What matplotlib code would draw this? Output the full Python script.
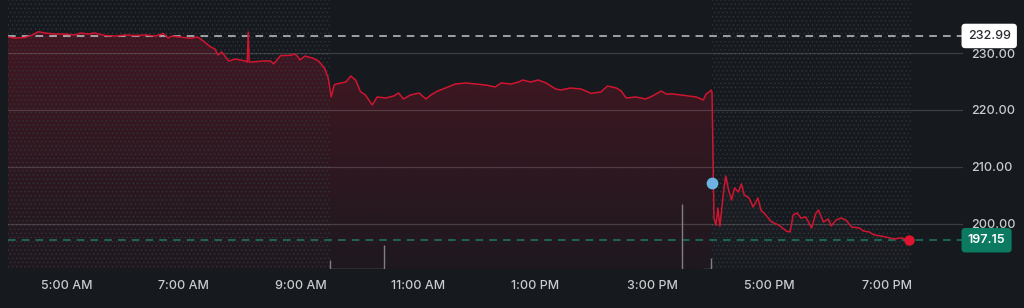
import matplotlib
matplotlib.use('Agg')
import matplotlib.pyplot as plt
import matplotlib.dates as mdates
import numpy as np
import pandas as pd

plt.rcParams['font.family'] = ['Inter', 'DejaVu Sans']
plt.rcParams['hatch.linewidth'] = 0.5

DAY = '2024-07-31'

times = ['04:00', '04:07', '04:17', '04:25', '04:31', '04:38', '04:48', '04:58', '05:09', '05:14',
         '05:22', '05:29', '05:39', '05:50', '06:00', '06:10', '06:21', '06:31', '06:39', '06:44',
         '06:48', '06:56', '07:07', '07:14', '07:20', '07:27', '07:32', '07:35', '07:39', '07:46',
         '07:53', '07:58', '08:03', '08:05', '08:06', '08:07', '08:13', '08:21', '08:29', '08:32',
         '08:39', '08:49', '08:54', '08:57', '08:59', '09:04', '09:12', '09:18', '09:24', '09:28',
         '09:31', '09:34', '09:36', '09:41', '09:46', '09:51', '09:56', '10:01', '10:06', '10:13',
         '10:18', '10:27', '10:35', '10:40', '10:45', '10:52', '11:01', '11:08', '11:13', '11:20',
         '11:28', '11:38', '11:49', '11:59', '12:09', '12:19', '12:25', '12:35', '12:43', '12:47',
         '12:55', '13:03', '13:11', '13:21', '13:26', '13:36', '13:47', '13:57', '14:07', '14:14',
         '14:23', '14:28', '14:33', '14:43', '14:53', '15:00', '15:09', '15:14', '15:21', '15:29',
         '15:37', '15:45', '15:52', '15:55', '15:58', '16:00',
         '16:01', '16:03', '16:05', '16:07', '16:09', '16:13', '16:15', '16:18', '16:21', '16:24',
         '16:28', '16:31', '16:34', '16:39', '16:43', '16:48', '16:51', '16:56', '17:02', '17:07',
         '17:12', '17:17', '17:21', '17:24', '17:28', '17:32', '17:37', '17:43', '17:47', '17:50',
         '17:55', '18:00', '18:03', '18:08', '18:13', '18:18', '18:24', '18:32', '18:36', '18:42',
         '18:47', '18:54', '18:59', '19:07', '19:15', '19:23']

prices = [232.81, 232.63, 232.72, 233.16, 233.74, 233.51, 233.33, 233.33, 233.16, 233.51,
          233.33, 233.51, 233.07, 232.98, 233.16, 233.07, 233.16, 232.98, 233.42, 232.63,
          232.98, 232.81, 232.58, 232.81, 232.11, 231.11, 230.70, 229.65, 230.18, 228.60,
          228.95, 228.77, 228.60, 228.42, 233.68, 228.42, 228.47, 228.60, 228.60, 228.07,
          229.53, 229.60, 229.82, 229.30, 228.77, 229.47, 229.12, 228.60, 227.37, 225.61,
          222.28, 224.39, 224.56, 224.74, 224.91, 225.96, 225.26, 223.21, 222.63, 220.88,
          222.28, 222.11, 222.46, 222.98, 221.93, 222.63, 222.98, 221.93, 222.63, 223.33,
          223.86, 224.56, 224.74, 224.56, 224.39, 224.04, 224.74, 224.56, 224.91, 225.26,
          224.91, 225.26, 224.74, 223.68, 223.51, 223.86, 223.68, 222.93, 223.16, 224.21,
          223.86, 223.33, 222.11, 222.28, 221.93, 222.46, 223.33, 222.81, 222.81, 222.63,
          222.46, 222.28, 221.75, 222.81, 223.16, 223.50,
          223.00, 201.00, 199.80, 202.80, 199.60, 205.96, 208.42, 205.96, 204.21, 206.32,
          205.61, 207.02, 205.09, 204.56, 202.98, 204.56, 202.46, 201.58, 200.35, 200.00,
          199.47, 198.77, 198.60, 201.58, 201.93, 201.05, 201.23, 199.30, 201.75, 202.46,
          200.35, 200.88, 199.65, 200.70, 201.05, 200.70, 199.47, 199.30, 198.77, 198.60,
          198.07, 197.89, 197.72, 197.37, 197.54, 197.15]

tick_times = ['05:00', '07:00', '09:00', '11:00', '13:00', '15:00', '17:00', '19:00']
tick_labels = ['5:00 AM', '7:00 AM', '9:00 AM', '11:00 AM', '1:00 PM', '3:00 PM', '5:00 PM', '7:00 PM']
y_ticks = [200, 210, 220, 230]
y_tick_labels = ['200.00', '210.00', '220.00', '230.00']

session_start = '04:00'
market_open = '09:30'
market_close = '16:00'
ah_end = '19:25'
x_end = '20:18'

prev_close = 232.99
last_price = 197.15
event_time = '16:01'
event_price = 207.2

vol_times = ['09:30', '10:25', '15:30', '16:00']
vol_values = [0.9, 2.4, 6.5, 1.1]

def T(s):
    return mdates.date2num(pd.Timestamp(f'{DAY} {s}'))

x = np.array([T(t) for t in times])
y = np.array(prices)

BG = '#16191e'
RED = '#d01530'
fig = plt.figure(figsize=(10.24, 3.08), dpi=100, facecolor=BG)
ax = fig.add_axes([8 / 1024, 39 / 308, (963 - 8) / 1024, (308 - 39) / 308])
ax.set_facecolor(BG)
ymin, ymax = 192.1, 239.3
ax.set_xlim(T(session_start), T(x_end))
ax.set_ylim(ymin, ymax)


def gradient_fill(xs, ys, rgb, a_top, a_bot, z):
    verts = [(xs[0], ymin)] + list(zip(xs, ys)) + [(xs[-1], ymin)]
    path = matplotlib.path.Path(verts)
    img = np.zeros((256, 1, 4))
    img[..., :3] = matplotlib.colors.to_rgb(rgb)
    img[..., 3] = np.linspace(a_bot, a_top, 256)[:, None]
    im = ax.imshow(img, extent=[xs[0], xs[-1], ymin, 234.5], origin='lower',
                   aspect='auto', zorder=z, interpolation='bilinear')
    im.set_clip_path(path, transform=ax.transData)


close_idx = times.index(market_close)
gradient_fill(x[:close_idx + 1], y[:close_idx + 1], '#c8102e', 0.26, 0.05, 1)
gradient_fill(x[close_idx:], y[close_idx:], '#9a8f98', 0.10, 0.02, 1)

# dotted extended-hours regions
for a, b in [(session_start, market_open), (market_close, ah_end)]:
    ax.axvspan(T(a), T(b), facecolor='none', edgecolor='#30343b', hatch='....',
               linewidth=0, zorder=1.5)

# gridlines
for v in y_ticks:
    ax.axhline(v, color='#ffffff', alpha=0.16, lw=0.9, zorder=2)

# reference lines
ax.axhline(prev_close, color='#c4c6ca', lw=1.1, ls=(0, (5, 4)), zorder=3)
ax.axhline(last_price, color='#1b7a62', lw=1.1, ls=(0, (5, 4)), zorder=3)

# price line
ax.plot(x, y, color=RED, lw=1.1, zorder=4, solid_joinstyle='round')
ax.plot([x[-1]], [y[-1]], 'o', color='#e0142e', ms=7.5, zorder=6, mec='none')
ax.plot([T(event_time)], [event_price], 'o', color='#6cb2e2', ms=8.5, zorder=6, mec='none')

# volume
axv = ax.twinx()
axv.set_ylim(0, 26.9)
axv.set_axis_off()
vx = [T(t) for t in vol_times]
axv.vlines(vx, 0, vol_values, color='#7d8086', lw=1.0)
axv.hlines(0.05, vx[0], vx[1], color='#7d8086', lw=1.0)
axv.hlines(0.05, T('15:52'), vx[3], color='#7d8086', lw=1.0)

# axes styling
for s in ax.spines.values():
    s.set_visible(False)
ax.set_xticks([T(t) for t in tick_times])
ax.set_xticklabels(tick_labels)
ax.yaxis.tick_right()
ax.set_yticks(y_ticks)
ax.set_yticklabels(y_tick_labels)
ax.tick_params(axis='x', length=0, pad=8, labelsize=9, labelcolor='#c9cbce')
ax.tick_params(axis='y', length=0, pad=6, labelsize=9, labelcolor='#c9cbce')
for lab in ax.get_xticklabels() + ax.get_yticklabels():
    lab.set_fontweight('medium')

# price tags
ax.text(1.005, prev_close, '232.99', transform=ax.get_yaxis_transform(), ha='left', va='center',
        fontsize=9, color='#2b2d31', fontweight='medium', zorder=7,
        bbox=dict(boxstyle='round,pad=0.5,rounding_size=0.3', fc='#ffffff', ec='none'))
ax.text(1.005, last_price, '197.15', transform=ax.get_yaxis_transform(), ha='left', va='center',
        fontsize=9, color='#ffffff', fontweight='semibold', zorder=7,
        bbox=dict(boxstyle='round,pad=0.5,rounding_size=0.3', fc='#0b7a60', ec='none'))

fig.savefig('out.png', dpi=100, facecolor=BG)
